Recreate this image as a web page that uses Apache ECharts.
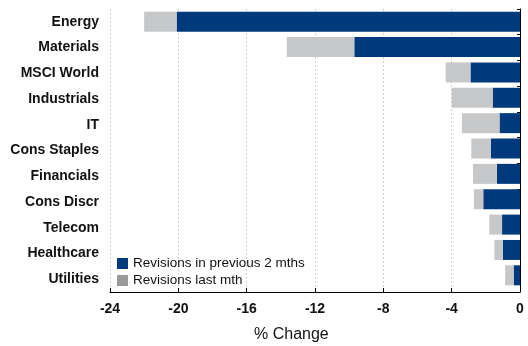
<!DOCTYPE html>
<html>
<head>
<meta charset="utf-8">
<script src="https://cdn.jsdelivr.net/npm/echarts@6/dist/echarts.min.js"></script>
<style>
  html, body { margin: 0; padding: 0; background: #fff; }
  #chart { width: 528px; height: 346px; }
</style>
</head>
<body>
<div id="chart"></div>
<script>
// Sector earnings revisions, % change
const sectors = ['Energy', 'Materials', 'MSCI World', 'Industrials', 'IT', 'Cons Staples',
                 'Financials', 'Cons Discr', 'Telecom', 'Healthcare', 'Utilities'];
const prevTwoMonths = [-20.1, -9.7, -2.9, -1.6, -1.2, -1.7, -1.35, -2.15, -1.05, -1.0, -0.37];
const lastMonth     = [-1.9, -3.95, -1.45, -2.4, -2.2, -1.15, -1.4, -0.55, -0.75, -0.5, -0.5];
const seriesNames = ['Revisions in previous 2 mths', 'Revisions last mth'];
const axisMin = -24, axisMax = 0, axisStep = 4;

const FONT = '"Liberation Sans", Arial, Helvetica, sans-serif';
const BLUE = '#003a7c';
const GREY = '#c6c7c9';

const chart = echarts.init(document.getElementById('chart'), null, { renderer: 'canvas' });

chart.setOption({
  animation: false,
  textStyle: { fontFamily: FONT },
  // grid 0 carries the visible frame and labels, grid 1 the bars (slightly tighter band)
  grid: [
    { left: 110, right: 8, top: 9, bottom: 54, containLabel: false },
    { left: 110, right: 8, top: 9, bottom: 58, containLabel: false }
  ],
  legend: {
    orient: 'vertical',
    left: 117,
    top: 255,
    padding: 0,
    itemWidth: 11,
    itemHeight: 11,
    itemGap: 0,
    icon: 'rect',
    textStyle: { fontFamily: FONT, fontSize: 13.5, color: '#111', lineHeight: 17 },
    data: [
      { name: seriesNames[0], itemStyle: { color: BLUE } },
      { name: seriesNames[1], itemStyle: { color: '#999999' } }
    ]
  },
  graphic: [{
    type: 'text',
    left: 254,
    top: 327,
    style: { text: '% Change', font: '16px ' + FONT, fill: '#111' }
  }],
  xAxis: [
    {
      type: 'value',
      gridIndex: 0,
      min: axisMin,
      max: axisMax,
      interval: axisStep,
      axisLine: { show: true, onZero: false, lineStyle: { color: '#000', width: 1 } },
      axisTick: { show: true, inside: true, length: 4, lineStyle: { color: '#000' } },
      axisLabel: { fontFamily: FONT, fontSize: 14, fontWeight: 'bold', color: '#111', margin: 10 },
      splitLine: { show: true, lineStyle: { color: '#cfcfcf', type: [2, 2], width: 1 } }
    },
    {
      type: 'value',
      gridIndex: 1,
      min: axisMin,
      max: axisMax,
      interval: axisStep,
      show: false,
      splitLine: { show: false }
    }
  ],
  yAxis: [
    {
      type: 'category',
      gridIndex: 0,
      data: sectors,
      inverse: true,
      position: 'left',
      axisLine: { show: false },
      axisTick: { show: false },
      axisLabel: { fontFamily: FONT, fontSize: 14, fontWeight: 'bold', color: '#111', margin: 11 }
    },
    {
      type: 'category',
      gridIndex: 0,
      data: sectors,
      inverse: true,
      position: 'right',
      axisLine: { show: true, onZero: false, lineStyle: { color: '#000', width: 1 } },
      axisTick: { show: true, inside: true, length: 3, lineStyle: { color: '#000' } },
      axisLabel: { show: false }
    },
    {
      type: 'category',
      gridIndex: 1,
      data: sectors,
      inverse: true,
      show: false
    }
  ],
  series: [
    {
      name: seriesNames[0],
      type: 'bar',
      stack: 'rev',
      xAxisIndex: 1,
      yAxisIndex: 2,
      barWidth: 20,
      itemStyle: { color: BLUE },
      data: prevTwoMonths
    },
    {
      name: seriesNames[1],
      type: 'bar',
      stack: 'rev',
      xAxisIndex: 1,
      yAxisIndex: 2,
      barWidth: 20,
      itemStyle: { color: GREY },
      data: lastMonth
    }
  ]
});
</script>
</body>
</html>
